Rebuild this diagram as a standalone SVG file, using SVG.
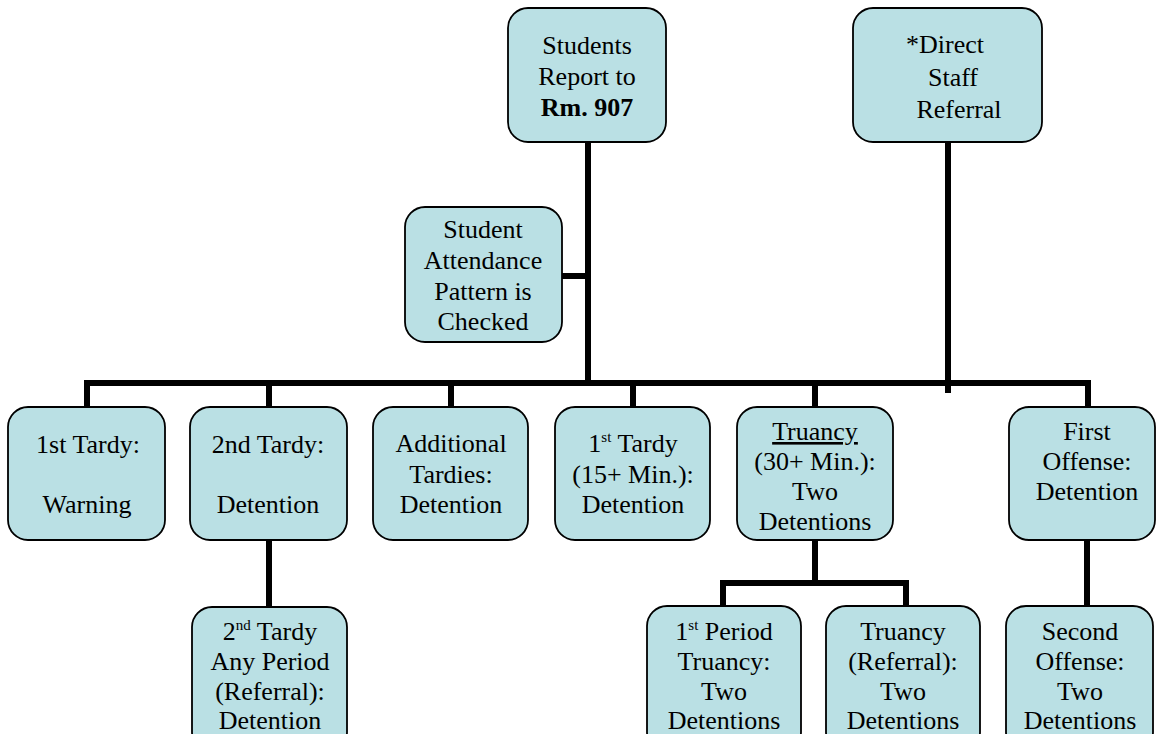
<svg xmlns="http://www.w3.org/2000/svg" width="1157" height="734" viewBox="0 0 1157 734">
<style>
.box{fill:#BAE0E4;stroke:#000;stroke-width:1.8}
.c{fill:none;stroke:#000;stroke-width:6;stroke-linecap:butt;stroke-linejoin:miter}
text{font-family:"Times New Roman","Liberation Serif",Tinos,"DejaVu Serif",serif;font-size:26px;fill:#000;text-anchor:middle}
.sup{font-size:15px}
</style>
<rect width="1157" height="734" fill="#fff"/>
<g id="connectors">
<path class="c" d="M588 142V383"/>
<path class="c" d="M562 276H588"/>
<path class="c" d="M948 142V393"/>
<path class="c" d="M84 383H1091"/>
<path class="c" d="M87 383V407M269 383V407M451 383V407M633 383V407M815 383V407M1088 380V407"/>
<path class="c" d="M269 540V607"/>
<path class="c" d="M815 540V583M723 583H906M723 580V606M906 580V606"/>
<path class="c" d="M1087 540V606"/>
</g>
<g id="n-report">
<rect class="box" x="508" y="8" width="158" height="134" rx="20"/>
<text x="587" y="54">Students</text>
<text x="587" y="85">Report to</text>
<text x="587" y="116" font-weight="bold">Rm. 907</text>
</g>
<g id="n-direct">
<rect class="box" x="853" y="8" width="189" height="134" rx="20"/>
<text x="945" y="53">*Direct</text>
<text x="953" y="86">Staff</text>
<text x="959" y="118">Referral</text>
</g>
<g id="n-attendance">
<rect class="box" x="405" y="207" width="157" height="135" rx="20"/>
<text x="483" y="238">Student</text>
<text x="483" y="269">Attendance</text>
<text x="483" y="300">Pattern is</text>
<text x="483" y="330">Checked</text>
</g>
<g id="n-tardy1">
<rect class="box" x="8" y="407" width="157" height="133" rx="20"/>
<text x="88" y="453">1st Tardy:</text>
<text x="87" y="513">Warning</text>
</g>
<g id="n-tardy2">
<rect class="box" x="190" y="407" width="157" height="133" rx="20"/>
<text x="268" y="453">2nd Tardy:</text>
<text x="268" y="513">Detention</text>
</g>
<g id="n-additional">
<rect class="box" x="373" y="407" width="155" height="133" rx="20"/>
<text x="451" y="452">Additional</text>
<text x="451" y="483">Tardies:</text>
<text x="451" y="513">Detention</text>
</g>
<g id="n-tardy15">
<rect class="box" x="555" y="407" width="155" height="133" rx="20"/>
<text x="633" y="452">1<tspan class="sup" dy="-10">st</tspan><tspan dy="10"> Tardy</tspan></text>
<text x="633" y="483">(15+ Min.):</text>
<text x="633" y="513">Detention</text>
</g>
<g id="n-truancy">
<rect class="box" x="737" y="407" width="156" height="133" rx="20"/>
<text x="815" y="440" text-decoration="underline">Truancy</text>
<text x="815" y="470">(30+ Min.):</text>
<text x="815" y="500">Two</text>
<text x="815" y="530">Detentions</text>
</g>
<g id="n-first-offense">
<rect class="box" x="1009" y="407" width="146" height="133" rx="20"/>
<text x="1087" y="440">First</text>
<text x="1087" y="470">Offense:</text>
<text x="1087" y="500">Detention</text>
</g>
<g id="n-tardy2-any">
<rect class="box" x="192" y="607" width="155" height="145" rx="20"/>
<text x="270" y="640">2<tspan class="sup" dy="-10">nd</tspan><tspan dy="10"> Tardy</tspan></text>
<text x="270" y="670">Any Period</text>
<text x="270" y="700">(Referral):</text>
<text x="270" y="729">Detention</text>
</g>
<g id="n-period1">
<rect class="box" x="647" y="606" width="154" height="146" rx="20"/>
<text x="724" y="640">1<tspan class="sup" dy="-10">st</tspan><tspan dy="10"> Period</tspan></text>
<text x="724" y="670">Truancy:</text>
<text x="724" y="700">Two</text>
<text x="724" y="729">Detentions</text>
</g>
<g id="n-truancy-referral">
<rect class="box" x="826" y="606" width="154" height="146" rx="20"/>
<text x="903" y="640">Truancy</text>
<text x="903" y="670">(Referral):</text>
<text x="903" y="700">Two</text>
<text x="903" y="729">Detentions</text>
</g>
<g id="n-second-offense">
<rect class="box" x="1006" y="606" width="147" height="146" rx="20"/>
<text x="1080" y="640">Second</text>
<text x="1080" y="670">Offense:</text>
<text x="1080" y="700">Two</text>
<text x="1080" y="729">Detentions</text>
</g>
</svg>
